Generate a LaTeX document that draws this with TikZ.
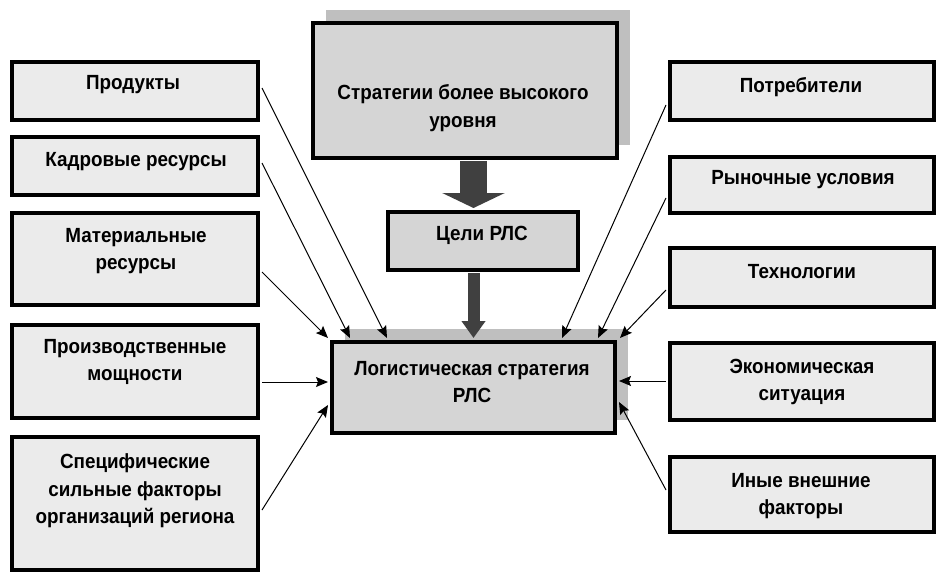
\documentclass[tikz,border=0pt]{standalone}
\usepackage{fontspec}
\setmainfont{Liberation Sans}[FakeStretch=0.92]
\usetikzlibrary{arrows.meta,shadows}
\definecolor{sidefill}{HTML}{EBEBEB}
\definecolor{mainfill}{HTML}{D5D5D5}
\definecolor{shadowgray}{HTML}{BFBFBF}
\definecolor{arrgray}{HTML}{404040}
\begin{document}
\begin{tikzpicture}[x=1pt,y=-1pt,
  sidebox/.style={draw=black,line width=4pt,fill=sidefill,inner sep=0pt},
  mainbox/.style={draw=black,line width=4pt,fill=mainfill,inner sep=0pt},
  shadowed/.style={drop shadow={shadow xshift=13pt,shadow yshift=13pt,fill=shadowgray,opacity=1}},
  lbl/.style={font=\bfseries\fontsize{20.5}{27.5}\selectfont,align=center,inner sep=0pt},
  conn/.style={line width=1pt,-{Stealth[length=12pt,width=10pt,inset=2pt]}},
  bigarrow/.style={arrgray,line width=27pt,-{Triangle[length=15pt,width=62pt]}},
  smallarrow/.style={arrgray,line width=12pt,-{Triangle[length=17pt,width=23pt]}}]
\useasboundingbox (0,0) rectangle (945,581);

% main boxes
\node[mainbox,shadowed,minimum width=304pt,minimum height=135pt] (top) at (465,90.5) {};
\node[mainbox,minimum width=190pt,minimum height=58pt] (tseli) at (483,241) {};
\node[mainbox,shadowed,minimum width=283pt,minimum height=91pt] (central) at (473.5,387.5) {};

% left boxes
\node[sidebox,minimum width=246pt,minimum height=58pt] (prod) at (135,91) {};
\node[sidebox,minimum width=246pt,minimum height=58pt] (kadr) at (135,166) {};
\node[sidebox,minimum width=246pt,minimum height=92pt] (mat) at (135,259) {};
\node[sidebox,minimum width=246pt,minimum height=93pt] (proizv) at (135,371.5) {};
\node[sidebox,minimum width=246pt,minimum height=133pt] (spec) at (135,503.5) {};

% right boxes
\node[sidebox,minimum width=264pt,minimum height=58pt] (potr) at (802,91) {};
\node[sidebox,minimum width=264pt,minimum height=56pt] (ryn) at (802,185) {};
\node[sidebox,minimum width=264pt,minimum height=59pt] (tech) at (802,277.5) {};
\node[sidebox,minimum width=264pt,minimum height=77pt] (econ) at (802,381.5) {};
\node[sidebox,minimum width=264pt,minimum height=75pt] (inye) at (802,494.5) {};

% labels
\node[lbl] (topT) at (463,108) {Стратегии более высокого\\уровня};
\node[lbl] (tseliT) at (482,235) {Цели РЛС};
\node[lbl] (centralT) at (472,382) {Логистическая стратегия\\РЛС};
\node[lbl] (prodT) at (133,85) {Продукты};
\node[lbl] (kadrT) at (136,162) {Кадровые ресурсы};
\node[lbl] (matT) at (136,251) {Материальные\\ресурсы};
\node[lbl] (proizvT) at (135,362) {Производственные\\мощности};
\node[lbl] (specT) at (135,491) {Специфические\\сильные факторы\\организаций региона};
\node[lbl] (potrT) at (801,87) {Потребители};
\node[lbl] (rynT) at (803,180) {Рыночные условия};
\node[lbl] (techT) at (802,272) {Технологии};
\node[lbl] (econT) at (802,382) {Экономическая\\ситуация};
\node[lbl] (inyeT) at (801,496) {Иные внешние\\факторы};

% big arrows
\draw[bigarrow] ([yshift=-1pt]central.north |- top.south) -- ([yshift=2pt]central.north |- tseli.north);
\draw[smallarrow] ([yshift=-1pt]central.north |- tseli.south) -- ([yshift=2pt]central.north);

% connectors from the left
\draw[conn] ([xshift=2pt,yshift=3pt]prod.east) -- ([xshift=-86.5pt,yshift=2pt]central.north);
\draw[conn] ([xshift=2pt,yshift=3pt]kadr.east) -- ([xshift=-123.5pt,yshift=2pt]central.north);
\draw[conn] ([xshift=2pt,yshift=-13pt]mat.east) -- ([xshift=-2pt,yshift=2pt]central.north west);
\draw[conn] ([xshift=2pt,yshift=-10.5pt]proizv.east) -- ([xshift=-2pt,yshift=5.5pt]central.west);
\draw[conn] ([xshift=2pt,yshift=-6.5pt]spec.east) -- ([xshift=-2pt,yshift=-17.5pt]central.west);

% connectors from the right
\draw[conn] ([xshift=-2pt,yshift=-14pt]potr.west) -- ([xshift=88.5pt,yshift=2pt]central.north);
\draw[conn] ([xshift=-2pt,yshift=-13pt]ryn.west) -- ([xshift=124.5pt,yshift=2pt]central.north);
\draw[conn] ([xshift=-2pt,yshift=-12.5pt]tech.west) -- ([xshift=3pt,yshift=2pt]central.north east);
\draw[conn] ([xshift=-2pt,yshift=0.5pt]econ.west) -- ([xshift=2pt,yshift=6.5pt]central.east);
\draw[conn] ([xshift=-2pt,yshift=4.5pt]inye.west) -- ([xshift=2pt,yshift=-14.5pt]central.east);
\end{tikzpicture}
\end{document}
